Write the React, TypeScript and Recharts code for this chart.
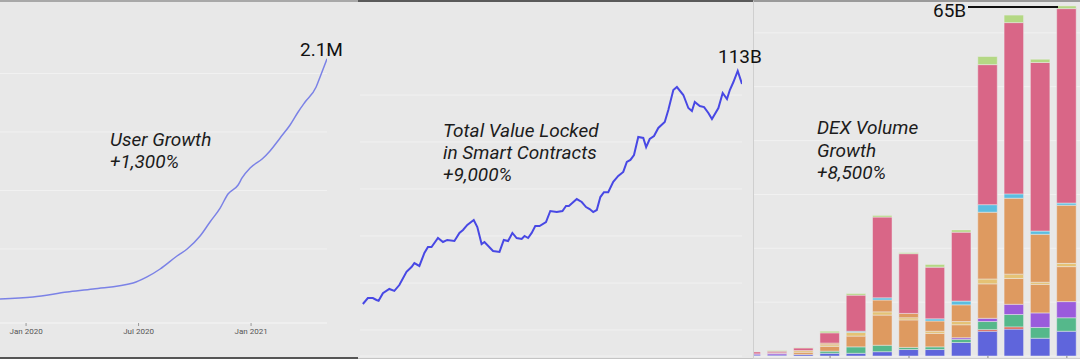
import React from 'react'
import {
  LineChart, Line, BarChart, Bar, XAxis, YAxis, CartesianGrid,
} from 'recharts'

// --- User growth (thousands of users, x = months since Jan 2020)
const userMonths = [-1.39, 0.37, 2.19, 3.57, 5.71, 6.45, 7.15, 8.05, 8.59, 9.28, 9.81, 10.35, 10.77, 11.31, 11.52, 11.95, 12.59, 13.01, 13.55, 14.08, 14.51, 14.88, 15.47, 15.68, 16.05]
const userCounts = [73, 90, 132, 158, 209, 261, 329, 440, 500, 611, 731, 850, 970, 1047, 1107, 1192, 1269, 1338, 1449, 1560, 1671, 1756, 1885, 1970, 2125]
const userTicks = [0, 6, 12]
const userTickLabels = ['Jan 2020', 'Jul 2020', 'Jan 2021']
const userGrid = [500, 1000, 1500, 2000]

// --- Total value locked (billions, x = days from first point)
const tvlDays = [0, 7, 14, 19, 22, 28, 37, 44, 51, 61, 68, 72, 79, 86, 91, 96, 105, 112, 118, 128, 135, 140, 146, 155, 160, 166, 170, 182, 191, 197, 203, 209, 215, 222, 226, 231, 236, 241, 247, 256, 262, 271, 279, 284, 288, 299, 306, 312, 317, 322, 327, 332, 337, 343, 350, 357, 364, 369, 374, 379, 385, 392, 396, 401, 407, 413, 422, 427, 434, 439, 448, 455, 460, 464, 471, 477, 483, 488, 497, 503, 509, 513, 518, 524, 530]
const tvlValues = [1.24, 1.39, 1.39, 1.34, 1.32, 1.53, 1.66, 1.6, 1.79, 2.31, 2.54, 2.74, 2.59, 3.33, 3.74, 3.74, 4.45, 4.12, 4.29, 4.2, 4.91, 5.2, 5.73, 6.31, 5.51, 3.96, 4.12, 3.46, 3.4, 4.29, 4.2, 4.91, 4.45, 4.37, 4.63, 4.45, 4.91, 5.61, 5.61, 6.07, 7.51, 7.36, 7.51, 8.27, 8.27, 9.47, 8.94, 8.11, 7.8, 7.36, 7.66, 9.84, 10.8, 10.8, 13.2, 14.8, 16.0, 19.4, 20.2, 22.2, 31.5, 30.9, 25.9, 30.3, 32.1, 37.5, 42.1, 53.1, 78.2, 82.9, 71.0, 55.2, 52.1, 62.0, 57.4, 56.2, 50.1, 44.6, 55.2, 73.8, 65.7, 78.2, 91.3, 113, 87.9]
const tvlGrid = [0.75, 1.86, 4.63, 11.5, 28.6, 71]

// --- DEX volume by month (billions)
const dexMonths = ['Apr 2020', 'May 2020', 'Jun 2020', 'Jul 2020', 'Aug 2020', 'Sep 2020', 'Oct 2020', 'Nov 2020', 'Dec 2020', 'Jan 2021', 'Feb 2021', 'Mar 2021', 'Apr 2021']
const dexBlue = [0.2, 0.2, 0.3, 0.5, 0.5, 0.8, 1.2, 1.2, 2.5, 4.6, 5.0, 3.3, 4.6]
const dexRed = [0, 0, 0, 0, 0, 0, 0, 0, 0, 0.3, 0.4, 0, 0]
const dexGreen = [0, 0, 0, 0.4, 1.2, 1.2, 0.4, 0.5, 0.6, 1.5, 2.3, 2.0, 2.5]
const dexPurple = [0.2, 0.3, 0, 0, 0, 0, 0, 0, 0.3, 0.6, 1.9, 2.7, 3.0]
const dexOrangeLow = [0, 0.1, 0.4, 0.9, 2.0, 5.6, 5.1, 2.5, 2.4, 6.4, 4.8, 5.3, 6.5]
const dexYellow = [0, 0, 0.3, 0.3, 0.7, 0.6, 0.4, 0.4, 0.6, 0.9, 0.8, 0.4, 0.6]
const dexOrangeHigh = [0, 0, 0, 0.3, 0, 2.2, 0.8, 1.9, 3.1, 12.4, 14.1, 8.9, 10.8]
const dexCyan = [0, 0, 0, 0, 0.2, 0.4, 0, 0.4, 0.7, 1.4, 0.8, 0.6, 0.4]
const dexPink = [0.35, 0.3, 0.5, 1.9, 6.7, 15.0, 11.1, 9.6, 12.8, 26.0, 31.8, 31.3, 36.1]
const dexLightGreen = [0, 0.1, 0.1, 0.3, 0.3, 0.3, 0.2, 0.5, 0.4, 1.5, 1.4, 0.6, 0.5]
const dexGrid = [10, 20, 30, 40, 50, 60]

const userData = userMonths.map((m, i) => ({ m, users: userCounts[i] }))
const tvlData = tvlDays.map((d, i) => ({ d, tvl: tvlValues[i] }))
const dexData = dexMonths.map((month, i) => ({
  month,
  blue: dexBlue[i], red: dexRed[i], green: dexGreen[i], purple: dexPurple[i],
  orangeLow: dexOrangeLow[i], yellow: dexYellow[i], orangeHigh: dexOrangeHigh[i],
  cyan: dexCyan[i], pink: dexPink[i], lightGreen: dexLightGreen[i],
}))

const dexSeries = [
  { key: 'blue', color: '#5f65dc' },
  { key: 'red', color: '#d85a4a' },
  { key: 'green', color: '#55b88b' },
  { key: 'purple', color: '#9a5bdc' },
  { key: 'orangeLow', color: '#de9a60' },
  { key: 'yellow', color: '#e5c274' },
  { key: 'orangeHigh', color: '#de9a60' },
  { key: 'cyan', color: '#5bbde0' },
  { key: 'pink', color: '#d96687' },
  { key: 'lightGreen', color: '#b4d884' },
]

const BG = '#e8e8e8'
const GRID = '#f1f1f1'
const FONT = 'Roboto, "Noto Sans", sans-serif'

const note: React.CSSProperties = {
  position: 'absolute', fontFamily: FONT, fontStyle: 'italic', fontSize: 19,
  lineHeight: '22px', color: '#1c1c1c', whiteSpace: 'nowrap', zIndex: 5,
}
const value: React.CSSProperties = {
  position: 'absolute', fontFamily: FONT, fontSize: 19, lineHeight: '22px',
  color: '#111', whiteSpace: 'nowrap', zIndex: 5,
}

export default function App() {
  return (
    <div style={{ position: 'absolute', left: 0, top: 0, width: 1080, height: 359, background: BG, overflow: 'hidden' }}>
      {/* panel 1 */}
      <div style={{ position: 'absolute', left: 0, top: 0, width: 358, height: 359, background: BG, borderTop: '2px solid #a8a8a8', borderBottom: '2px solid #555', boxSizing: 'border-box', overflow: 'hidden' }}>
        <div style={{ position: 'absolute', left: 0, top: -2 }}>
          <LineChart width={358} height={359} data={userData} margin={{ top: 0, right: 31, bottom: 6, left: 0 }}>
            <CartesianGrid vertical={false} stroke={GRID} />
            <XAxis type="number" dataKey="m" domain={[-1.39, 16.05]} allowDataOverflow
              ticks={userTicks} tickFormatter={(v) => userTickLabels[userTicks.indexOf(v)] ?? ''}
              height={30} axisLine={{ stroke: '#f2f2f2' }} tickLine={{ stroke: '#999' }} tickSize={3}
              tick={{ fontSize: 8, fill: '#555', fontFamily: FONT }} />
            <YAxis hide domain={[-132.5, 2628]} ticks={userGrid} allowDataOverflow />
            <Line type="monotone" dataKey="users" stroke="#7b82e6" strokeWidth={1.5} dot={false} isAnimationActive={false} />
          </LineChart>
        </div>
      </div>
      {/* panel 2 */}
      <div style={{ position: 'absolute', left: 358, top: 0, width: 395, height: 359, background: BG, borderTop: '2px solid #5a5a5a', borderBottom: '1px solid #c4c4c4', boxSizing: 'border-box', overflow: 'hidden' }}>
        <div style={{ position: 'absolute', left: 0, top: -2 }}>
          <LineChart width={395} height={359} data={tvlData} margin={{ top: 0, right: 11, bottom: 3, left: 2 }}>
            <CartesianGrid vertical={false} stroke={GRID} />
            <XAxis hide type="number" dataKey="d" domain={[-4, 530]} allowDataOverflow />
            <YAxis hide scale="log" domain={[0.453, 447]} ticks={tvlGrid} allowDataOverflow />
            <Line type="linear" dataKey="tvl" stroke="#4848e4" strokeWidth={2} dot={false} isAnimationActive={false} />
          </LineChart>
        </div>
      </div>
      {/* panel 3 */}
      <div style={{ position: 'absolute', left: 753, top: 0, width: 327, height: 359, background: BG, borderTop: '2px solid #9a9a9a', borderLeft: '1px solid #cfcfcf', borderBottom: '1px solid #cfcfcf', boxSizing: 'border-box', overflow: 'hidden' }}>
        <div style={{ position: 'absolute', left: -16.5, top: -2 }}>
          <BarChart width={342} height={359} data={dexData} margin={{ top: 0, right: 0, bottom: 0, left: 0 }} barSize={19.5}>
            <CartesianGrid vertical={false} stroke={GRID} />
            <XAxis dataKey="month" interval={2} height={3} axisLine={false} tickLine={{ stroke: '#888' }} tickSize={3} tickFormatter={() => ''} />
            <YAxis hide domain={[0, 66.1]} ticks={dexGrid} allowDataOverflow />
            {dexSeries.map(s => (
              <Bar key={s.key} dataKey={s.key} stackId="dex" fill={s.color} stroke="#eeeeee" strokeOpacity={0.6} strokeWidth={0.8} isAnimationActive={false} />
            ))}
          </BarChart>
        </div>
      </div>

      {/* annotations */}
      <div style={{ ...note, left: 110, top: 129 }}>User Growth<br />+1,300%</div>
      <div style={{ ...value, left: 300, top: 39 }}>2.1M</div>
      <div style={{ ...note, left: 443, top: 120 }}>Total Value Locked<br />in Smart Contracts<br />+9,000%</div>
      <div style={{ ...value, left: 718, top: 46 }}>113B</div>
      <div style={{ ...note, left: 817, top: 117, lineHeight: '22.5px' }}>DEX Volume<br />Growth<br />+8,500%</div>
      <div style={{ ...value, left: 933, top: 0 }}>65B</div>
      <div style={{ position: 'absolute', left: 968, top: 5.5, width: 90, height: 2, background: '#111', zIndex: 5 }} />
    </div>
  )
}
